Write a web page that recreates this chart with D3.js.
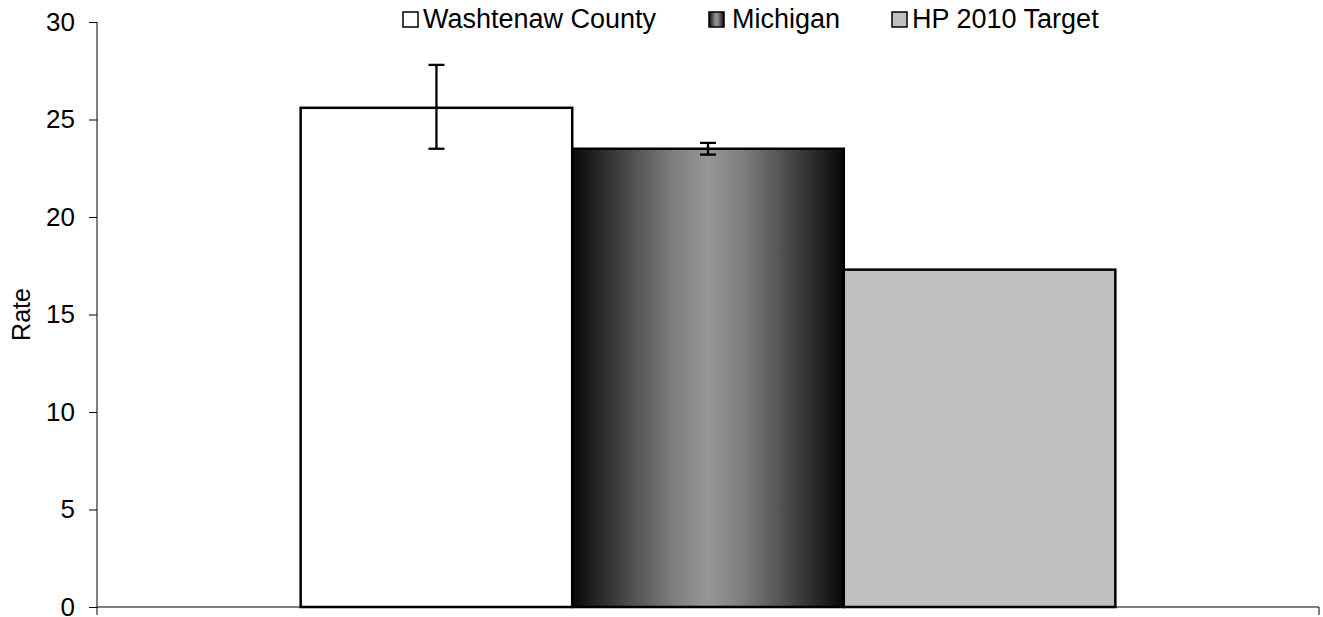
<!DOCTYPE html>
<html>
<head>
<meta charset="utf-8">
<script src="https://cdn.jsdelivr.net/npm/d3@7"></script>
<style>
  body { margin: 0; background: #fff; }
  svg { display: block; font-family: "Liberation Sans", Arial, sans-serif; }
</style>
</head>
<body>
<svg width="1323" height="617"></svg>
<script>
var series = ['Washtenaw County', 'Michigan', 'HP 2010 Target'],
    values = [25.6, 23.5, 17.3],
    errLow = [23.5, 23.2, null],
    errHigh = [27.8, 23.8, null],
    yTicks = [0, 5, 10, 15, 20, 25, 30],
    fills = ['#ffffff', 'url(#miGrad)', '#c0c0c0']

var svg = d3.select('svg'),
    margin = {top: 22, right: 4, bottom: 10, left: 97},
    width = 1323 - margin.left - margin.right,
    height = 617 - margin.top - margin.bottom

// horizontal "from centre" gradient for Michigan
var defs = svg.append('defs')
var grad = defs.append('linearGradient').attr('id', 'miGrad')
    .attr('x1', '0%').attr('x2', '100%').attr('y1', '0%').attr('y2', '0%')
var gradStops = [[0, '#080808'], [0.12, '#2e2e2e'], [0.25, '#595959'], [0.38, '#808080'],
                 [0.5, '#969696'], [0.62, '#808080'], [0.75, '#595959'], [0.88, '#2e2e2e'], [1, '#080808']]
grad.selectAll('stop').data(gradStops).enter().append('stop')
    .attr('offset', d => d[0]).attr('stop-color', d => d[1])

var g = svg.append('g').attr('transform', 'translate(' + margin.left + ',' + margin.top + ')')

var y = d3.scaleLinear().domain([0, 30]).range([height, 0])
var x = d3.scaleBand().domain(series).range([0, width]).paddingInner(0).paddingOuter(0.75)

// y axis
var yAxis = g.append('g')
    .call(d3.axisLeft(y).tickValues(yTicks).tickSize(8).tickPadding(14).tickFormat(d3.format('d')))
yAxis.select('.domain').attr('stroke', '#000').attr('d', 'M0,0V' + (height + 8))
yAxis.selectAll('.tick line').attr('stroke', '#000')
yAxis.selectAll('.tick text').attr('font-size', 26).attr('fill', '#000')
    .attr('font-family', '"Liberation Sans", Arial, sans-serif')

// x axis: one category, ticks at both ends
g.append('path')
    .attr('d', 'M0,' + height + 'H' + width + 'V' + (height + 8))
    .attr('fill', 'none').attr('stroke', '#000')

// bars
g.selectAll('.bar')
    .data(series)
    .enter().append('rect')
    .attr('class', 'bar')
    .attr('x', d => x(d))
    .attr('y', (d, i) => y(values[i]))
    .attr('width', x.bandwidth())
    .attr('height', (d, i) => height - y(values[i]))
    .attr('fill', (d, i) => fills[i])
    .attr('stroke', '#000')
    .attr('stroke-width', 2.5)

// error bars
var errs = series.map((d, i) => ({s: d, lo: errLow[i], hi: errHigh[i]})).filter(d => d.lo != null)
var eb = g.selectAll('.err').data(errs).enter().append('g').attr('class', 'err')
    .attr('stroke', '#000').attr('stroke-width', 2.3)
eb.append('line')
    .attr('x1', d => x(d.s) + x.bandwidth() / 2).attr('x2', d => x(d.s) + x.bandwidth() / 2)
    .attr('y1', d => y(d.hi)).attr('y2', d => y(d.lo))
eb.selectAll('.cap').data(d => [{s: d.s, v: d.hi}, {s: d.s, v: d.lo}])
    .enter().append('line')
    .attr('x1', d => x(d.s) + x.bandwidth() / 2 - 8).attr('x2', d => x(d.s) + x.bandwidth() / 2 + 8)
    .attr('y1', d => y(d.v)).attr('y2', d => y(d.v))

// y label
svg.append('text')
    .attr('transform', 'translate(30,' + (margin.top + height / 2) + ') rotate(-90)')
    .attr('text-anchor', 'middle')
    .attr('font-size', 25)
    .text('Rate')

// legend
var legendX = [403, 709, 892]
var leg = svg.selectAll('.leg').data(series).enter().append('g')
    .attr('class', 'leg')
    .attr('transform', (d, i) => 'translate(' + legendX[i] + ',12)')
leg.append('rect')
    .attr('width', 15).attr('height', 15)
    .attr('fill', (d, i) => fills[i])
    .attr('stroke', '#000').attr('stroke-width', 1.5)
leg.append('text')
    .attr('x', (d, i) => i == 1 ? 23 : 20).attr('y', 16)
    .attr('font-size', 27)
    .text(d => d)
</script>
</body>
</html>
